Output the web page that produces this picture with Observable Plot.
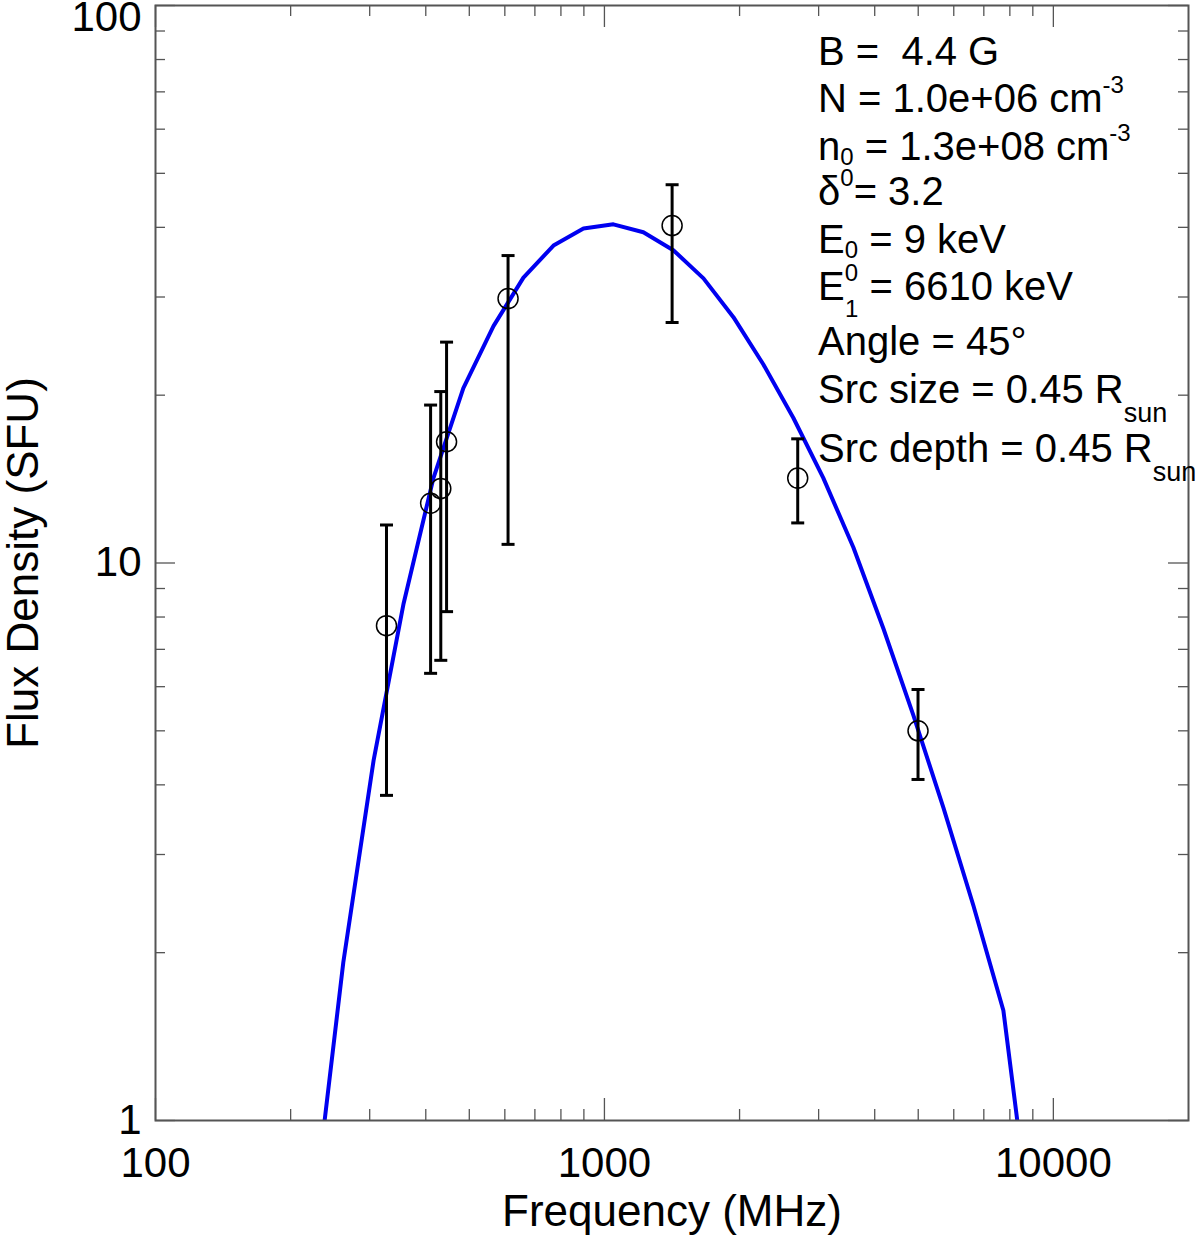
<!DOCTYPE html>
<html>
<head>
<meta charset="utf-8">
<script src="https://cdn.jsdelivr.net/npm/d3@7"></script>
<script src="https://cdn.jsdelivr.net/npm/@observablehq/plot@0.6"></script>
<style>
  body { margin: 0; background: #fff; }
  #chart svg { display: block; }
</style>
</head>
<body>
<div id="chart"></div>
<script>
// observed fluxes (MHz, SFU) with error bar ends
const obsFreq = [327, 410, 432, 445, 610, 1415, 2695, 4995]
const obsFlux = [7.72, 12.8, 13.6, 16.5, 29.8, 40.3, 14.2, 5.0]
const obsLow = [3.83, 6.34, 6.69, 8.18, 10.8, 27.0, 11.8, 4.09]
const obsHigh = [11.7, 19.2, 20.3, 24.9, 35.6, 47.7, 16.7, 5.93]

// model spectrum (blue curve)
const modelFreq = [225, 262, 306, 357, 416, 485, 566, 660, 770, 898, 1047, 1221, 1424,
  1662, 1938, 2260, 2636, 3074, 3586, 4182, 4878, 5689, 6635, 7739, 9027]
const modelFlux = [0.68, 1.92, 4.42, 8.46, 14.2, 20.6, 26.6, 32.5, 37.1, 39.8, 40.5, 39.2, 36.4,
  32.4, 27.6, 22.7, 18.2, 14.2, 10.66, 7.63, 5.33, 3.64, 2.43, 1.575, 0.59]

// ticks
const xMajor = [100, 1000, 10000]
const xMinor = [200, 300, 400, 500, 600, 700, 800, 900, 2000, 3000, 4000, 5000, 6000, 7000, 8000, 9000]
const yMajor = [1, 10, 100]
const yMinor = [2, 3, 4, 5, 6, 7, 8, 9, 20, 30, 40, 50, 60, 70, 80, 90]

const xLabel = 'Frequency (MHz)'
const yLabel = 'Flux Density (SFU)'

// fit parameters, each line is a list of [text, kind]
const paramLines = [
  [['B =  4.4 G']],
  [['N = 1.0e+06 cm'], ['-3', 'sup']],
  [['n'], ['0', 'sub'], [' = 1.3e+08 cm'], ['-3', 'sup']],
  [['\u03b4'], ['0', 'sup'], ['= 3.2']],
  [['E'], ['0', 'sub'], [' = 9 keV']],
  [['E'], ['0', 'sup'], ['1', 'subback'], [' = 6610 keV']],
  [['Angle = 45\u00b0']],
  [['Src size = 0.45 R'], ['sun', 'sub2']],
  [['Src depth = 0.45 R'], ['sun', 'sub2']],
]
const paramBaselines = [65, 112, 160, 205, 253, 300, 355, 403, 462]

const W = 1200, H = 1238
const mL = 155, mR = 12, mT = 5, mB = 118
const innerW = W - mL - mR, innerH = H - mT - mB
const frameColor = '#555'
const font = '"Liberation Sans", Arial, Helvetica, sans-serif'

const obs = obsFreq.map((f, i) => ({f, flux: obsFlux[i], lo: obsLow[i], hi: obsHigh[i]}))
const model = modelFreq.map((f, i) => ({f, flux: modelFlux[i]}))

// flat cap for the error bars
const capSymbol = {
  draw(ctx, size) {
    const w = Math.sqrt(size / Math.PI)
    ctx.moveTo(-w, 0)
    ctx.lineTo(w, 0)
  }
}

let chart = Plot.plot({
  width: W,
  height: H,
  marginLeft: mL,
  marginRight: mR,
  marginTop: mT,
  marginBottom: mB,
  x: {type: 'log', domain: [100, 20000]},
  y: {type: 'log', domain: [1, 100]},
  style: {
    fontFamily: font,
    background: 'white',
    color: 'black',
  },
  marks: [
    Plot.line(model, {x: 'f', y: 'flux', stroke: '#0000f0', strokeWidth: 4, clip: true}),
    Plot.ruleX(obs, {x: 'f', y1: 'lo', y2: 'hi', stroke: 'black', strokeWidth: 3}),
    Plot.dot(obs, {x: 'f', y: 'lo', symbol: capSymbol, r: 6.5, stroke: 'black', strokeWidth: 3}),
    Plot.dot(obs, {x: 'f', y: 'hi', symbol: capSymbol, r: 6.5, stroke: 'black', strokeWidth: 3}),
    Plot.dot(obs, {x: 'f', y: 'flux', r: 10, stroke: 'black', strokeWidth: 1.5, fill: 'none'}),

    // inward ticks on all four sides
    Plot.ruleX(xMajor, {insetTop: innerH - 22, stroke: frameColor, strokeWidth: 1.3}),
    Plot.ruleX(xMinor, {insetTop: innerH - 11, stroke: frameColor, strokeWidth: 1.3}),
    Plot.ruleX(xMajor, {insetBottom: innerH - 22, stroke: frameColor, strokeWidth: 1.3}),
    Plot.ruleX(xMinor, {insetBottom: innerH - 11, stroke: frameColor, strokeWidth: 1.3}),
    Plot.ruleY(yMajor, {insetRight: innerW - 20, stroke: frameColor, strokeWidth: 1.3}),
    Plot.ruleY(yMinor, {insetRight: innerW - 10, stroke: frameColor, strokeWidth: 1.3}),
    Plot.ruleY(yMajor, {insetLeft: innerW - 20, stroke: frameColor, strokeWidth: 1.3}),
    Plot.ruleY(yMinor, {insetLeft: innerW - 10, stroke: frameColor, strokeWidth: 1.3}),
    Plot.frame({stroke: frameColor, strokeWidth: 2}),

    Plot.axisX(xMajor, {anchor: 'bottom', tickSize: 0, tickPadding: 27, fontSize: 42, label: null, tickFormat: d => String(d)}),
    Plot.axisY(yMajor.slice(0, 2), {anchor: 'left', tickSize: 0, tickPadding: 14, fontSize: 42, label: null, tickFormat: d => String(d)}),
    Plot.axisY(yMajor.slice(2), {anchor: 'left', tickSize: 0, tickPadding: 14, fontSize: 42, label: null, dy: 12, tickFormat: d => String(d)}),
    Plot.text([xLabel], {frameAnchor: 'bottom', dy: 91, lineAnchor: 'middle', textAnchor: 'middle', fontSize: 44}),
    Plot.text([yLabel], {frameAnchor: 'left', dx: -132, rotate: -90, lineAnchor: 'middle', textAnchor: 'middle', fontSize: 44}),
  ],
})

d3.select('#chart').append(() => chart)

// parameter block with sub/superscripts
const g = d3.select(chart).append('g')
  .attr('font-family', font)
  .attr('font-size', 40)
  .attr('fill', 'black')
  .attr('text-anchor', 'start')
  .style('white-space', 'pre')

paramLines.forEach((line, i) => {
  const t = g.append('text').attr('x', 818).attr('y', paramBaselines[i]).attr('text-anchor', 'start')
  let shift = 0
  line.forEach(([txt, kind]) => {
    const s = t.append('tspan').text(txt)
    let dy = 0
    if (kind === 'sup') { dy = -19; s.attr('font-size', 24) }
    else if (kind === 'sub') { dy = 5; s.attr('font-size', 24) }
    else if (kind === 'subback') { dy = 17; s.attr('font-size', 24).attr('dx', -13) }
    else if (kind === 'sub2') { dy = 19; s.attr('font-size', 27) }
    s.attr('dy', dy - shift)
    shift = dy
  })
})
</script>
</body>
</html>
